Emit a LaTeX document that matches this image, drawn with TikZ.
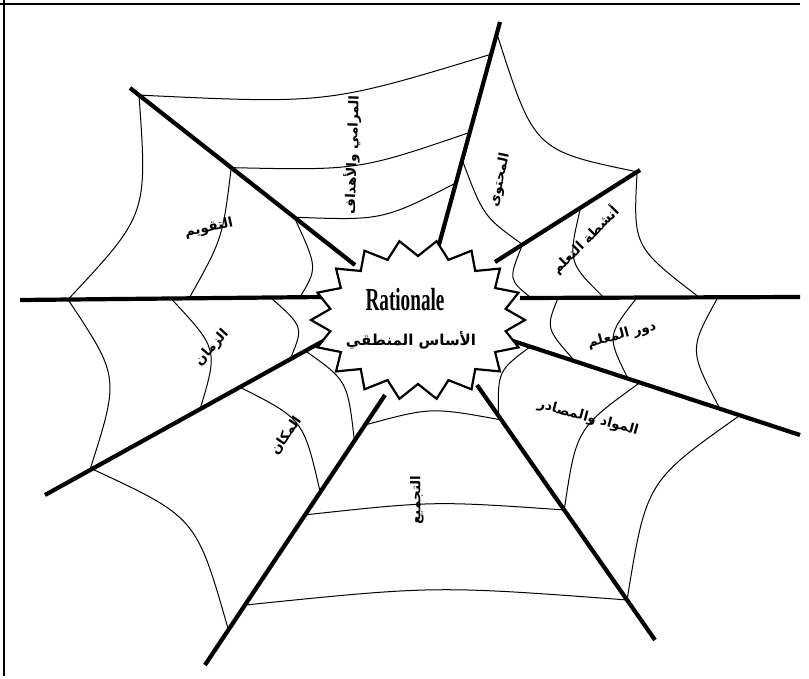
\documentclass[tikz,border=0pt]{standalone}
\usepackage{fontspec}
\setmainfont{Liberation Serif}
\newfontfamily\arabicfont[Script=Arabic]{DejaVu Sans}
\TeXXeTstate=1
\usetikzlibrary{calc}
\newcommand\wthread[5]{%
  \path ($(o#1)!#2!(i#1)$) coordinate (ta) ($(o#3)!#4!(i#3)$) coordinate (tb);
  \path ($(ta)!0.5!(tb)$) coordinate (tm);
  \draw[thread] (ta) .. controls ($(tm)!#5!(C)$) .. (tb);}
\begin{document}
\begin{tikzpicture}[x=1pt,y=-1pt,
  spoke/.style={line width=4.2pt},
  thread/.style={line width=1pt},
  frameline/.style={line width=2.5pt},
  lbl/.style={font=\arabicfont\bfseries\fontsize{13.5}{13.5}\selectfont, inner sep=0pt},
  startline/.style={line width=2.2pt, fill=white}]
\useasboundingbox (0,0) rectangle (809,678);
% frame
\coordinate (f1) at (0,4);
\coordinate (f2) at (800,4);
\coordinate (f3) at (4,0);
\coordinate (f4) at (4,676);
\draw[frameline] (f1) -- (f2);
\draw[frameline] (f3) -- (f4);
% spokes
\coordinate (o1) at (130,88);  \coordinate (i1) at (355,265);
\coordinate (o2) at (500,22);  \coordinate (i2) at (437,252);
\coordinate (o3) at (640,170); \coordinate (i3) at (495,262);
\coordinate (o4) at (800,297); \coordinate (i4) at (520,298);
\coordinate (o5) at (800,435); \coordinate (i5) at (510,340);
\coordinate (o6) at (655,640); \coordinate (i6) at (477,385);
\coordinate (o7) at (205,665); \coordinate (i7) at (385,395);
\coordinate (o8) at (45,495);  \coordinate (i8) at (325,340);
\coordinate (o9) at (20,300);  \coordinate (i9) at (322,297);
\coordinate (C) at (418,320);
% threads
\wthread{1}{0.04}{2}{0.14}{0.12}
\wthread{1}{0.45}{2}{0.48}{0.12}
\wthread{1}{0.73}{2}{0.7}{0.17}
\wthread{2}{0.05}{3}{0.02}{0.22}
\wthread{2}{0.6}{3}{0.81}{0.12}
\wthread{3}{0.81}{4}{0.96}{0.17}
\wthread{3}{0.41}{4}{0.7}{0.14}
\wthread{3}{0.02}{4}{0.36}{0.14}
\wthread{4}{0.864}{5}{0.776}{0.14}
\wthread{4}{0.582}{5}{0.593}{0.12}
\wthread{4}{0.293}{5}{0.276}{0.1}
\wthread{5}{0.93}{6}{0.88}{0.17}
\wthread{5}{0.552}{6}{0.51}{0.14}
\wthread{5}{0.207}{6}{0.157}{0.14}
\wthread{6}{0.863}{7}{0.889}{0.15}
\wthread{6}{0.51}{7}{0.556}{0.06}
\wthread{6}{0.157}{7}{0.222}{0.06}
\wthread{7}{0.83}{8}{0.93}{0.2}
\wthread{7}{0.64}{8}{0.696}{0.17}
\wthread{7}{0.13}{8}{0.168}{0.14}
\wthread{9}{0.83}{8}{0.875}{0.17}
\wthread{9}{0.5}{8}{0.554}{0.14}
\wthread{9}{0.159}{8}{0.16}{0.12}
\wthread{1}{0.73}{9}{0.927}{0.17}
\wthread{1}{0.45}{9}{0.56}{0.06}
\wthread{1}{0.04}{9}{0.159}{0.14}
% spokes on top of threads
\foreach \k in {1,...,9}{\draw[spoke] (o\k) -- (i\k);}
% central star
\draw[startline] plot[samples at={0,...,35}, variable=\k]
  ({418+ifthenelse(mod(\k,2)==0,107,89)*cos(\k*10)},
   {320+ifthenelse(mod(\k,2)==0,80,64)*sin(\k*10)}) -- cycle;
\node[font=\bfseries\fontsize{32}{32}\selectfont, inner sep=0pt] (rat) at (405,300) {\scalebox{0.6}[1]{Rationale}};
\node[font=\arabicfont\bfseries\fontsize{15}{15}\selectfont, inner sep=0pt] (ras) at (411,340) {\beginR الأساس المنطقي\endR};
% labels
\node[lbl, rotate=88] (l1) at (352,155) {\beginR المرامي والأهداف\endR};
\node[lbl, rotate=78] (l2) at (500,180) {\beginR المحتوى\endR};
\node[lbl, rotate=45] (l3) at (585,240) {\beginR أنشطة التعلم\endR};
\node[lbl, rotate=15] (l4) at (622,335) {\beginR دور المعلم\endR};
\node[lbl, rotate=-15] (l5) at (588,418) {\beginR المواد والمصادر\endR};
\node[lbl, rotate=90] (l6) at (417,500) {\beginR التجميع\endR};
\node[lbl, rotate=55] (l7) at (286,436) {\beginR المكان\endR};
\node[lbl, rotate=48] (l8) at (212,348) {\beginR الزمان\endR};
\node[lbl, rotate=12] (l9) at (209,228) {\beginR التقويم\endR};
\end{tikzpicture}
\end{document}
